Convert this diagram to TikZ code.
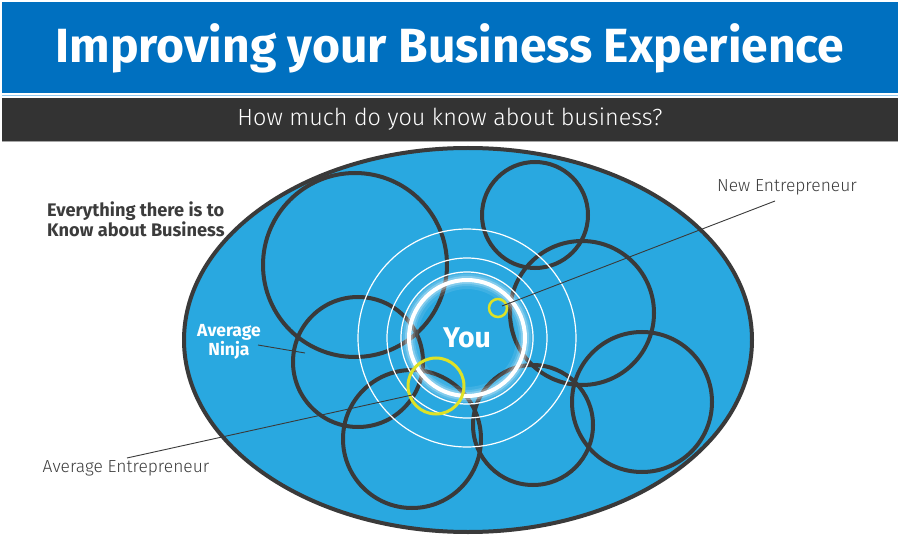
\documentclass[tikz,border=0pt]{standalone}
\usepackage{fontspec}
\usetikzlibrary{shapes.geometric}
\setmainfont{Fira Sans}
\newfontfamily\lightfont{Fira Sans Light}
\definecolor{titleblue}{RGB}{0,112,192}
\definecolor{barDark}{RGB}{51,51,51}
\definecolor{skyfill}{RGB}{41,168,224}
\definecolor{ringdark}{RGB}{58,58,58}
\definecolor{hiyellow}{RGB}{222,226,38}
\definecolor{textdark}{RGB}{60,60,60}
\definecolor{sepblue}{RGB}{150,200,235}
\begin{document}
\begin{tikzpicture}[x=1pt,y=-1pt,
  darkring/.style={circle,draw=ringdark,line width=4,inner sep=0,fill=none},
  thinring/.style={draw=white,line width=1.2},
  yring/.style={circle,draw=hiyellow,inner sep=0},
  leader/.style={draw=ringdark,line width=0.9},
  lighttext/.style={text=textdark,font=\lightfont\fontsize{17.4}{20}\selectfont,inner sep=0},
  boldwhite/.style={text=white,font=\bfseries\fontsize{17.5}{19}\selectfont,inner sep=0,align=center}]
\useasboundingbox (0,0) rectangle (900,540);
\fill[white] (0,0) rectangle (900,540);
% header bars
\node[fill=titleblue,minimum width=896,minimum height=91,inner sep=0,text=white,
  font=\bfseries\fontsize{48}{52}\selectfont] (title) at (450,48) {Improving your Business Experience};
\draw[sepblue,line width=1] (2,95.5) -- (898,95.5);
\node[fill=barDark,minimum width=896,minimum height=43,inner sep=0,text=white,
  font=\lightfont\fontsize{23.4}{28}\selectfont] (sub) at (450,119.5) {How much do you know about business?};
\draw[gray!70,line width=1] (2,141.5) -- (898,141.5);
% big ellipse
\node[ellipse,fill=skyfill,draw=ringdark,line width=4,minimum width=568,minimum height=384,inner sep=0] (all) at (468,340) {};
% dark circles
\node[darkring,minimum size=184] (c1) at (355,265) {};
\node[darkring,minimum size=130] (c2) at (358,362) {};
\node[darkring,minimum size=138] (c3) at (412,439) {};
\node[darkring,minimum size=106] (c4) at (535,215) {};
\node[darkring,minimum size=144] (c5) at (582,313) {};
\node[darkring,minimum size=140] (c6) at (642,402) {};
\node[darkring,minimum size=120] (c7) at (533,425) {};
% white rings
\coordinate (ctr) at (467,338);
\draw[thinring] (ctr) circle[radius=109];
\draw[thinring] (ctr) circle[radius=80];
\draw[thinring] (ctr) circle[radius=66];
\draw[white,opacity=0.10,line width=18] (ctr) circle[radius=58];
\draw[white,opacity=0.15,line width=12] (ctr) circle[radius=58];
\draw[white,opacity=0.25,line width=8] (ctr) circle[radius=58];
\node[circle,draw=white,line width=4,minimum size=116,inner sep=0,text=white,
  font=\bfseries\fontsize{28.5}{30}\selectfont] (you) at (ctr) {You};
% yellow circles
\node[yring,line width=3,minimum size=56] (ye) at (436,386) {};
\node[yring,line width=2.5,minimum size=18] (yn) at (498,308) {};
% labels
\node[text=textdark,font=\bfseries\fontsize{18.2}{17.5}\selectfont,align=left,anchor=west,inner sep=0]
  (every) at (47,219.5) {Everything there is to\\Know about Business};
\node[boldwhite] (ninja) at (229,342) {Average\\Ninja};
\node[lighttext] (newe) at (787,187) {New Entrepreneur};
\node[lighttext] (avge) at (126,468) {Average Entrepreneur};
% leaders
\coordinate (ninjaStart) at (258,345);
\coordinate (ninjaEnd) at (305,353);
\coordinate (newStart) at (775,201);
\coordinate (newEnd) at (502,306);
\coordinate (avgStart) at (127,458);
\coordinate (avgEnd) at (412,395);
\draw[leader] (ninjaStart) -- (ninjaEnd);
\draw[leader] (newStart) -- (newEnd);
\draw[leader] (avgStart) -- (avgEnd);
\end{tikzpicture}
\end{document}
